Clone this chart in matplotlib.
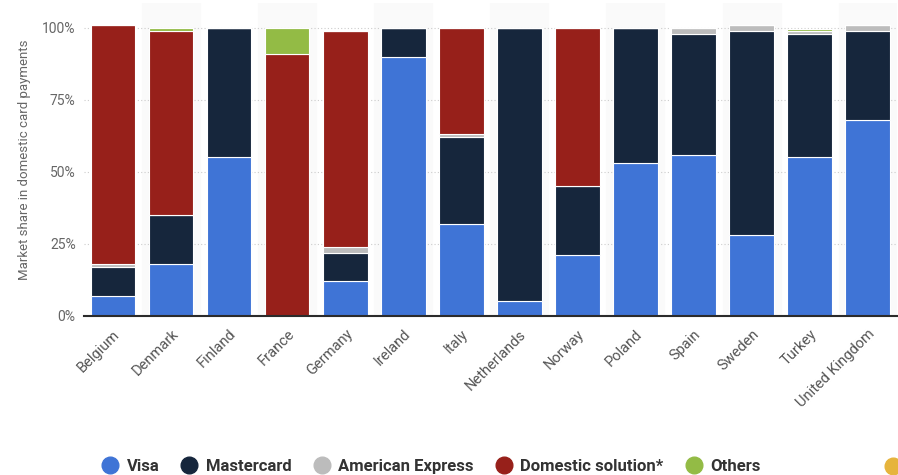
import numpy as np
import matplotlib.pyplot as plt
from matplotlib.lines import Line2D

# Values (share in %)
countries = ['Belgium', 'Denmark', 'Finland', 'France', 'Germany', 'Ireland', 'Italy',
             'Netherlands', 'Norway', 'Poland', 'Spain', 'Sweden', 'Turkey', 'United Kingdom']
visa = [7, 18, 55, 0, 12, 90, 32, 5, 21, 53, 56, 28, 55, 68]
mastercard = [10, 17, 45, 0, 10, 10, 30, 95, 24, 47, 42, 71, 43, 31]
amex = [1, 0, 0, 0, 2, 0, 1, 0, 0, 0, 2, 2, 1, 2]
domestic = [83, 64, 0, 91, 75, 0, 37, 0, 55, 0, 0, 0, 0, 0]
others = [0, 1, 0, 9, 0, 0, 0, 0, 0, 0, 0, 0, 0.5, 0]
unknown = [0] * 14

series = [('Visa', visa, '#3f74d6'),
          ('Mastercard', mastercard, '#16263c'),
          ('American Express', amex, '#bcbcbc'),
          ('Domestic solution*', domestic, '#97201a'),
          ('Others', others, '#93bb45'),
          ('', unknown, '#e6b43c')]

plt.rcParams['font.family'] = ['Roboto', 'DejaVu Sans']

fig = plt.figure(figsize=(8.98, 4.75), dpi=100)
ax = fig.add_axes([0.0935, 0.335, 0.905, 0.659])

x = np.arange(len(countries))

# alternating column shading
for i in x:
    if i % 2 == 1:
        ax.axvspan(i - 0.5, i + 0.5, color='#fafafa', zorder=0)

bottom = np.zeros(len(countries))
for name, vals, col in series:
    vals = np.array(vals, dtype=float)
    ax.bar(x, vals, bottom=bottom, width=0.77, color=col, edgecolor='white',
           linewidth=0.8, zorder=3)
    bottom += vals

ax.set_xlim(-0.5, len(countries) - 0.5)
ax.set_ylim(0, 108.7)
ax.set_yticks([0, 25, 50, 75, 100])
ax.set_yticklabels(['0%', '25%', '50%', '75%', '100%'])
ax.grid(axis='y', linestyle=(0, (1, 2)), color='#cccccc', linewidth=0.8, zorder=1)
ax.set_axisbelow(True)

ax.set_xticks(x)
ax.set_xticklabels(countries, rotation=45, ha='right', rotation_mode='anchor')
ax.tick_params(axis='x', length=0, pad=8, labelsize=10.5, labelcolor='#555555')
ax.tick_params(axis='y', length=0, pad=6, labelsize=10, labelcolor='#666666')

for s in ['top', 'right', 'left']:
    ax.spines[s].set_visible(False)
ax.spines['bottom'].set_color('#2b2b2b')
ax.spines['bottom'].set_linewidth(1.5)
ax.spines['bottom'].set_zorder(4)

ax.set_ylabel('Market share in domestic card payments', fontsize=9.5, color='#666666', labelpad=8)

# legend: the last entry is cut off at the right edge in the original, only its dot shows
handles = [Line2D([0], [0], marker='o', linestyle='none', markersize=12,
                  markerfacecolor=col, markeredgecolor=col) for _, _, col in series[:5]]
labels = [name for name, _, _ in series[:5]]
fig.legend(handles, labels, loc='center left', bbox_to_anchor=(0.113, 0.018), ncol=5,
           frameon=False, handlelength=1.0, handletextpad=0.5, columnspacing=1.3,
           borderaxespad=0, borderpad=0,
           prop={'weight': 'bold', 'size': 12})
for t in fig.legends[0].get_texts():
    t.set_color('#333333')
fig.add_artist(Line2D([893 / 898], [1 - 466 / 475], marker='o', linestyle='none',
                      markersize=12, markerfacecolor=series[5][2],
                      markeredgecolor=series[5][2], transform=fig.transFigure))

plt.savefig('out.png', dpi=100)
